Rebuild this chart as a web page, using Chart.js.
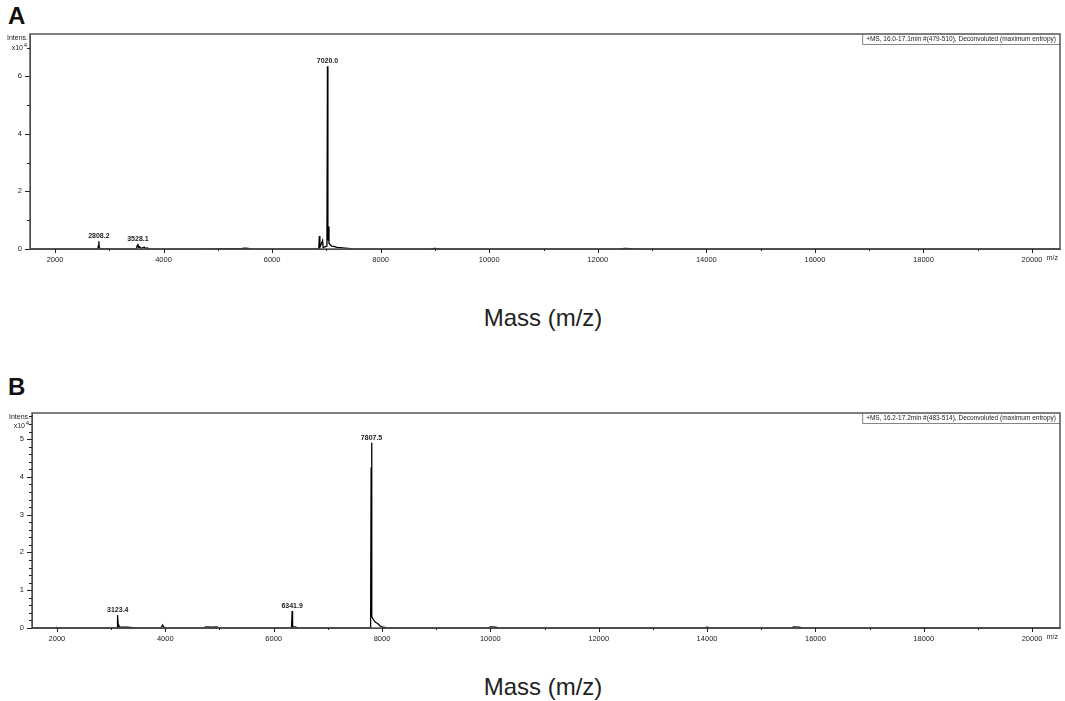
<!DOCTYPE html>
<html>
<head>
<meta charset="utf-8">
<title>Deconvoluted mass spectra</title>
<script src="https://cdn.jsdelivr.net/npm/chart.js@4.4.1/dist/chart.umd.min.js"></script>
<style>
    body { margin: 0; background: #fff; }
    #page { position: relative; width: 1065px; height: 701px; overflow: hidden; font-family: "Liberation Sans", Arial, sans-serif; }
    canvas { position: absolute; left: 0; }
    .letter { position: absolute; left: 8px; font-weight: bold; font-size: 24px; color: #111; }
    .xtitle { position: absolute; left: 0; width: 1086px; text-align: center; font-size: 24px; color: #222; }
</style>
</head>
<body>
<div id="page">
    <div class="letter" style="top: 2px;">A</div>
    <canvas id="chartA" width="1065" height="272" style="top: 0;"></canvas>
    <div class="xtitle" style="top: 304px;">Mass (m/z)</div>

    <div class="letter" style="top: 373px;">B</div>
    <canvas id="chartB" width="1065" height="272" style="top: 380px;"></canvas>
    <div class="xtitle" style="top: 673px;">Mass (m/z)</div>
</div>
<script>
// Panel A spectrum (mass in m/z, intensity in x10^4)
const massA = [1540, 2790, 2800, 2808.2, 2815, 2825, 3000, 3010, 3500, 3515, 3528.1, 3540, 3560, 3580,
    3650, 3670, 3700, 3720, 4700, 4710, 4720, 5450, 5500, 5560, 5600, 6860, 6870, 6880, 6930, 6940,
    7010, 7020.0, 7028, 7040, 7048, 7070, 7100, 7150, 7200, 7300, 7400, 7500, 8900, 9000, 9100,
    12400, 12500, 12600, 12700, 20515];
const intensA = [0, 0, 0.12, 0.27, 0.05, 0, 0.01, 0, 0, 0.12, 0.18, 0.05, 0.08, 0.02,
    0.06, 0.01, 0.04, 0, 0, 0.01, 0, 0.02, 0.03, 0.02, 0, 0, 0.45, 0.05, 0.3, 0.05,
    0.1, 6.35, 0.3, 0.78, 0.2, 0.15, 0.1, 0.08, 0.06, 0.04, 0.02, 0, 0, 0.02, 0,
    0, 0.02, 0.01, 0, 0];
const peaksA = [2808.2, 3528.1, 7020.0];
const headerA = '+MS, 16.0-17.1min #(479-510), Deconvoluted (maximum entropy)';

// Panel B spectrum
const massB = [1540, 1990, 2000, 2010, 3110, 3115, 3123.4, 3130, 3140, 3160, 3200, 3300, 3400, 3450,
    3920, 3950, 3970, 4000, 4700, 4750, 4850, 4950, 5000, 6330, 6341.9, 6350, 6400, 6450,
    7790, 7800, 7807.5, 7815, 7830, 7850, 7880, 7920, 7960, 8000, 8100,
    9950, 10000, 10100, 10150, 13950, 14000, 14050, 15550, 15600, 15700, 15750, 17950, 18000, 18050, 20515];
const intensB = [0, 0, 0.01, 0, 0, 0.15, 0.34, 0.1, 0.05, 0.03, 0.02, 0.02, 0.01, 0,
    0, 0.08, 0.03, 0, 0, 0.03, 0.02, 0.03, 0, 0, 0.45, 0.02, 0.03, 0,
    0, 4.25, 4.9, 0.3, 0.25, 0.2, 0.15, 0.12, 0.06, 0.03, 0,
    0, 0.03, 0.02, 0, 0, 0.02, 0, 0, 0.03, 0.02, 0, 0, 0.01, 0, 0];
const peaksB = [3123.4, 6341.9, 7807.5];
const headerB = '+MS, 16.2-17.2min #(483-514), Deconvoluted (maximum entropy)';

// x ticks: labelled every 2000, minor marks every 1000
const xTicks = [2000, 3000, 4000, 5000, 6000, 7000, 8000, 9000, 10000, 11000, 12000,
    13000, 14000, 15000, 16000, 17000, 18000, 19000, 20000];
const xMin = 1540;
const xMax = 20515;
const fontFamily = '"Liberation Sans", Arial, sans-serif';
const smallFont = '7px ' + fontFamily;

function isWhole(v) {
    return Math.abs(v - Math.round(v)) < 1e-6;
}

// Draws the frame, tick marks, peak labels and the instrument header
const spectrumPlugin = {
    id: 'spectrum',
    afterDraw(chart, args, opts) {
        const ctx = chart.ctx;
        const area = chart.chartArea;
        const xs = chart.scales.x;
        const ys = chart.scales.y;
        ctx.save();

        ctx.strokeStyle = '#555';
        ctx.lineWidth = 1.5;
        ctx.strokeRect(area.left, area.top, area.right - area.left, area.bottom - area.top);

        ctx.strokeStyle = '#222';
        ctx.lineWidth = 1;
        ctx.beginPath();
        xs.ticks.forEach(t => {
            const px = Math.round(xs.getPixelForValue(t.value)) + 0.5;
            const len = t.value % 2000 === 0 ? 4 : 2;
            ctx.moveTo(px, area.bottom);
            ctx.lineTo(px, area.bottom + len);
        });
        ys.ticks.forEach(t => {
            const py = Math.round(ys.getPixelForValue(t.value)) + 0.5;
            const len = isWhole(t.value / opts.majorStep) ? 5 : 3;
            ctx.moveTo(area.left, py);
            ctx.lineTo(area.left - len, py);
        });
        ctx.stroke();

        ctx.fillStyle = '#222';
        ctx.font = 'bold ' + smallFont;
        ctx.textAlign = 'center';
        ctx.textBaseline = 'alphabetic';
        opts.peaks.forEach(m => {
            const h = opts.intens[opts.mass.indexOf(m)];
            ctx.fillText(m.toFixed(1), xs.getPixelForValue(m), ys.getPixelForValue(h) - 3);
        });

        // y-axis unit label
        ctx.font = smallFont;
        ctx.textAlign = 'right';
        ctx.textBaseline = 'alphabetic';
        ctx.fillText('Intens.', area.left - 2, area.top + 6);
        ctx.fillText('x10', area.left - 7, area.top + opts.unitGap + 2);
        ctx.font = '6px ' + fontFamily;
        ctx.fillText('4', area.left - 3, area.top + opts.unitGap - 1);

        // x-axis unit
        ctx.font = smallFont;
        ctx.textBaseline = 'middle';
        ctx.fillText('m/z', area.right - 2, area.bottom + 9);

        // header box
        ctx.font = '6.5px ' + fontFamily;
        ctx.textAlign = 'left';
        const tw = ctx.measureText(opts.header).width;
        const bx = area.right - tw - 8;
        ctx.fillText(opts.header, bx + 4, area.top + 5);
        ctx.strokeStyle = '#666';
        ctx.lineWidth = 0.8;
        ctx.beginPath();
        ctx.moveTo(bx + 0.5, area.top);
        ctx.lineTo(bx + 0.5, area.top + 10.5);
        ctx.lineTo(area.right, area.top + 10.5);
        ctx.stroke();

        ctx.restore();
    }
};

function makeChart(id, mass, intens, peaks, header, yMax, yStep, majorStep, topPad, xHeight, yWidth, unitGap) {
    const points = mass.map((m, i) => ({ x: m, y: intens[i] }));
    return new Chart(document.getElementById(id), {
        type: 'line',
        data: {
            datasets: [{
                data: points,
                borderColor: '#000',
                borderWidth: 1.3,
                pointRadius: 0,
                tension: 0,
                fill: false
            }]
        },
        options: {
            responsive: false,
            animation: false,
            layout: { padding: { top: topPad, right: 5, left: 0, bottom: 0 } },
            plugins: {
                legend: { display: false },
                tooltip: { enabled: false },
                spectrum: { mass, intens, peaks, header, majorStep, unitGap }
            },
            scales: {
                x: {
                    type: 'linear',
                    min: xMin,
                    max: xMax,
                    afterBuildTicks: s => { s.ticks = xTicks.map(v => ({ value: v })); },
                    afterFit: s => { s.height = xHeight; },
                    grid: { drawOnChartArea: false, drawTicks: false },
                    border: { display: true, color: '#333', width: 1 },
                    ticks: {
                        autoSkip: false,
                        maxRotation: 0,
                        padding: 6,
                        color: '#222',
                        font: { family: fontFamily, size: 7.5 },
                        callback: v => (v % 2000 === 0 ? String(v) : '')
                    }
                },
                y: {
                    min: 0,
                    max: yMax,
                    afterFit: s => { s.width = yWidth; },
                    grid: { drawOnChartArea: false, drawTicks: false },
                    border: { display: true, color: '#333', width: 1 },
                    ticks: {
                        stepSize: yStep,
                        includeBounds: false,
                        autoSkip: false,
                        padding: 8,
                        color: '#222',
                        font: { family: fontFamily, size: 7.5 },
                        callback: v => (isWhole(v / majorStep) ? String(Math.round(v)) : '')
                    }
                }
            }
        },
        plugins: [spectrumPlugin]
    });
}

makeChart('chartA', massA, intensA, peaksA, headerA, 7.47, 1, 2, 34, 23, 30, 14);
makeChart('chartB', massB, intensB, peaksB, headerB, 5.69, 0.2, 1, 33, 24, 32, 13);
</script>
</body>
</html>
